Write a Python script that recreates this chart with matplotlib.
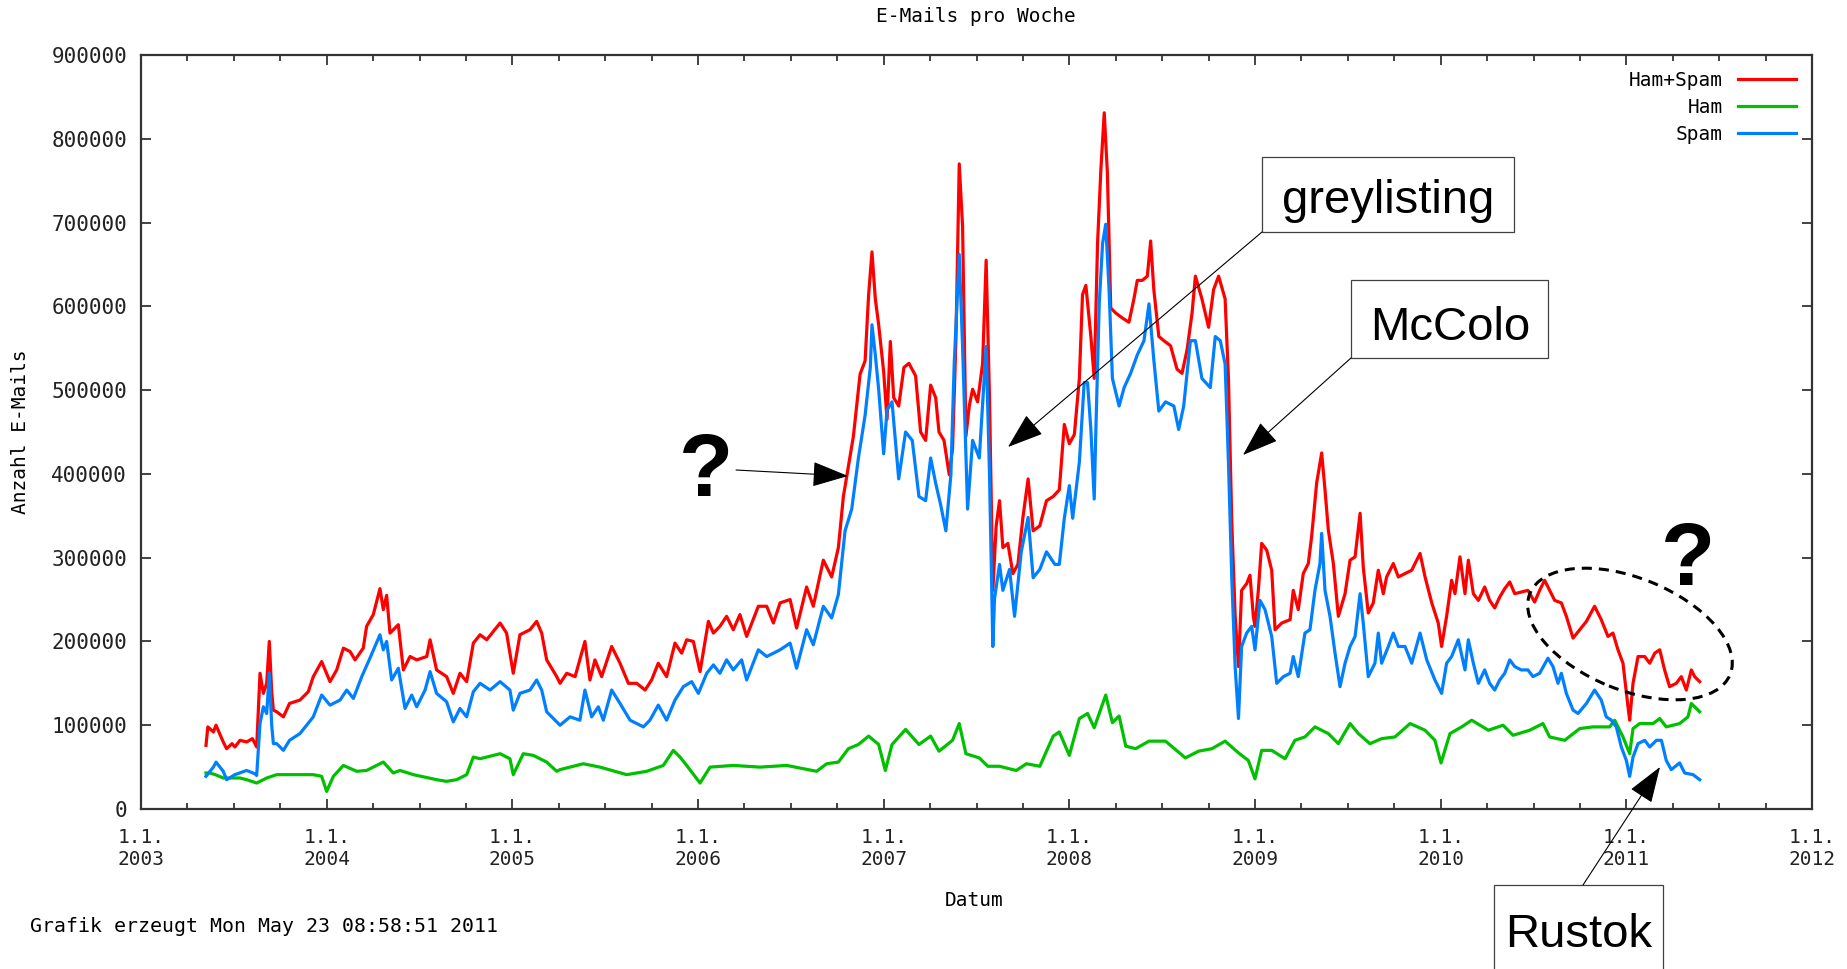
import matplotlib
matplotlib.use('Agg')
import matplotlib.pyplot as plt
from matplotlib.patches import Rectangle, Ellipse, FancyArrowPatch, ArrowStyle
from matplotlib.transforms import IdentityTransform

W, H = 1847, 969
MONO = 'DejaVu Sans Mono'
SANS = 'Liberation Sans'

# weekly mail counts in thousands (decimal year, value)
t_total = [2003.350, 2003.360, 2003.390, 2003.404, 2003.443, 2003.461, 2003.490, 2003.506, 2003.533, 2003.569,
           2003.600, 2003.614, 2003.623, 2003.641, 2003.650, 2003.659, 2003.677, 2003.691, 2003.704, 2003.713,
           2003.731, 2003.767, 2003.800, 2003.856, 2003.901, 2003.928, 2003.973, 2004.018, 2004.054, 2004.090,
           2004.126, 2004.153, 2004.197, 2004.215, 2004.251, 2004.287, 2004.305, 2004.323, 2004.341, 2004.386,
           2004.413, 2004.449, 2004.485, 2004.539, 2004.557, 2004.592, 2004.646, 2004.682, 2004.718, 2004.754,
           2004.790, 2004.826, 2004.862, 2004.934, 2004.969, 2005.005, 2005.041, 2005.095, 2005.131, 2005.158,
           2005.185, 2005.239, 2005.257, 2005.293, 2005.338, 2005.391, 2005.418, 2005.445, 2005.481, 2005.535,
           2005.580, 2005.625, 2005.670, 2005.715, 2005.750, 2005.786, 2005.831, 2005.876, 2005.912, 2005.939,
           2005.975, 2006.011, 2006.056, 2006.083, 2006.118, 2006.154, 2006.190, 2006.226, 2006.262, 2006.325,
           2006.370, 2006.406, 2006.442, 2006.496, 2006.531, 2006.585, 2006.621, 2006.675, 2006.720, 2006.756,
           2006.783, 2006.810, 2006.837, 2006.873, 2006.900, 2006.919, 2006.937, 2006.955, 2006.973, 2007.000,
           2007.018, 2007.036, 2007.054, 2007.081, 2007.109, 2007.136, 2007.172, 2007.199, 2007.226, 2007.253,
           2007.280, 2007.298, 2007.325, 2007.353, 2007.371, 2007.389, 2007.407, 2007.425, 2007.443, 2007.461,
           2007.479, 2007.506, 2007.533, 2007.552, 2007.570, 2007.588, 2007.606, 2007.624, 2007.642, 2007.669,
           2007.696, 2007.723, 2007.750, 2007.778, 2007.805, 2007.841, 2007.877, 2007.913, 2007.946, 2007.973,
           2008.000, 2008.027, 2008.054, 2008.071, 2008.089, 2008.116, 2008.134, 2008.152, 2008.170, 2008.188,
           2008.205, 2008.223, 2008.250, 2008.286, 2008.321, 2008.348, 2008.366, 2008.393, 2008.420, 2008.438,
           2008.455, 2008.482, 2008.509, 2008.545, 2008.580, 2008.607, 2008.634, 2008.661, 2008.679, 2008.714,
           2008.750, 2008.777, 2008.804, 2008.839, 2008.857, 2008.875, 2008.893, 2008.911, 2008.928, 2008.955,
           2008.973, 2008.991, 2009.000, 2009.018, 2009.036, 2009.063, 2009.090, 2009.108, 2009.144, 2009.189,
           2009.206, 2009.233, 2009.260, 2009.287, 2009.305, 2009.332, 2009.359, 2009.377, 2009.395, 2009.422,
           2009.449, 2009.485, 2009.512, 2009.539, 2009.566, 2009.583, 2009.610, 2009.637, 2009.664, 2009.691,
           2009.709, 2009.745, 2009.772, 2009.808, 2009.844, 2009.889, 2009.916, 2009.952, 2009.987, 2010.005,
           2010.032, 2010.059, 2010.077, 2010.104, 2010.131, 2010.149, 2010.176, 2010.203, 2010.237, 2010.264,
           2010.291, 2010.318, 2010.345, 2010.372, 2010.399, 2010.434, 2010.470, 2010.506, 2010.533, 2010.560,
           2010.587, 2010.614, 2010.650, 2010.677, 2010.713, 2010.749, 2010.785, 2010.829, 2010.865, 2010.901,
           2010.928, 2010.955, 2010.982, 2011.009, 2011.018, 2011.036, 2011.063, 2011.099, 2011.126, 2011.153,
           2011.180, 2011.206, 2011.233, 2011.269, 2011.296, 2011.323, 2011.350, 2011.368, 2011.395]
total = [76, 98, 92, 100, 80, 72, 78, 74, 82, 80,
         84, 78, 74, 162, 150, 138, 150, 200, 140, 118,
         116, 110, 126, 130, 140, 158, 176, 152, 166, 192,
         188, 178, 192, 218, 232, 263, 238, 255, 210, 220,
         166, 182, 178, 182, 202, 166, 158, 138, 162, 152,
         198, 208, 202, 222, 210, 162, 208, 214, 224, 210,
         178, 158, 150, 162, 158, 200, 154, 178, 158, 194,
         174, 150, 150, 142, 154, 174, 158, 198, 186, 202,
         200, 164, 224, 210, 218, 230, 214, 232, 206, 242,
         242, 222, 246, 250, 216, 265, 242, 297, 277, 312,
         373, 409, 445, 519, 535, 614, 665, 609, 578, 522,
         465, 558, 491, 481, 527, 532, 517, 450, 440, 506,
         491, 450, 440, 399, 430, 558, 770, 696, 445, 481,
         501, 486, 532, 655, 491, 261, 338, 368, 312, 317,
         281, 292, 348, 394, 332, 338, 368, 373, 381, 459,
         436, 447, 514, 614, 625, 564, 514, 675, 764, 831,
         759, 598, 592, 586, 581, 609, 631, 631, 636, 678,
         620, 564, 559, 553, 525, 520, 548, 592, 636, 609,
         575, 620, 636, 609, 514, 342, 231, 170, 261, 269,
         279, 230, 218, 261, 317, 309, 285, 214, 222, 226,
         261, 238, 281, 293, 325, 389, 425, 381, 333, 293,
         230, 257, 297, 301, 353, 289, 234, 246, 285, 257,
         277, 293, 277, 281, 285, 305, 277, 246, 222, 194,
         230, 273, 257, 301, 257, 297, 257, 249, 265, 249,
         240, 253, 263, 271, 257, 259, 261, 247, 261, 273,
         261, 249, 246, 230, 204, 214, 224, 242, 226, 206,
         210, 190, 174, 122, 106, 150, 182, 182, 174, 186,
         190, 166, 146, 150, 158, 142, 166, 158, 152]

t_ham = [2003.350, 2003.370, 2003.400, 2003.443, 2003.533, 2003.569, 2003.623, 2003.677, 2003.731, 2003.800,
         2003.928, 2003.973, 2004.000, 2004.036, 2004.090, 2004.162, 2004.215, 2004.305, 2004.359, 2004.395,
         2004.467, 2004.592, 2004.646, 2004.700, 2004.754, 2004.790, 2004.826, 2004.934, 2004.987, 2005.005,
         2005.059, 2005.113, 2005.185, 2005.239, 2005.257, 2005.382, 2005.472, 2005.616, 2005.724, 2005.813,
         2005.867, 2005.903, 2005.939, 2006.011, 2006.065, 2006.190, 2006.334, 2006.478, 2006.639, 2006.693,
         2006.756, 2006.810, 2006.864, 2006.919, 2006.973, 2007.009, 2007.045, 2007.118, 2007.190, 2007.253,
         2007.298, 2007.371, 2007.407, 2007.443, 2007.515, 2007.561, 2007.624, 2007.714, 2007.769, 2007.841,
         2007.913, 2007.946, 2008.000, 2008.054, 2008.098, 2008.134, 2008.196, 2008.232, 2008.268, 2008.304,
         2008.357, 2008.429, 2008.518, 2008.625, 2008.696, 2008.768, 2008.839, 2008.911, 2008.964, 2009.000,
         2009.036, 2009.090, 2009.162, 2009.215, 2009.269, 2009.323, 2009.395, 2009.449, 2009.512, 2009.557,
         2009.619, 2009.682, 2009.754, 2009.835, 2009.916, 2009.969, 2010.002, 2010.050, 2010.113, 2010.167,
         2010.257, 2010.336, 2010.390, 2010.479, 2010.551, 2010.587, 2010.668, 2010.749, 2010.820, 2010.910,
         2010.937, 2010.982, 2011.018, 2011.036, 2011.072, 2011.144, 2011.180, 2011.215, 2011.287, 2011.332,
         2011.350, 2011.395]
ham = [43, 43, 41, 37, 37, 35, 31, 37, 41, 41,
       41, 39, 21, 39, 52, 45, 46, 56, 43, 46,
       41, 35, 33, 35, 41, 62, 60, 66, 60, 41,
       66, 64, 56, 45, 47, 54, 50, 41, 45, 52,
       70, 62, 52, 31, 50, 52, 50, 52, 45, 54,
       56, 72, 77, 87, 77, 46, 77, 95, 77, 87,
       69, 82, 102, 66, 61, 51, 51, 46, 54, 51,
       87, 92, 64, 108, 114, 97, 136, 103, 111, 75,
       72, 81, 81, 61, 69, 72, 81, 67, 58, 36,
       70, 70, 60, 82, 86, 98, 90, 78, 102, 90,
       78, 84, 86, 102, 94, 82, 55, 90, 98, 106,
       94, 100, 88, 94, 102, 86, 82, 96, 98, 98,
       106, 86, 66, 96, 102, 102, 108, 98, 102, 110,
       126, 116]

t_spam = [2003.350, 2003.390, 2003.404, 2003.443, 2003.461, 2003.506, 2003.569, 2003.614, 2003.623, 2003.641,
          2003.659, 2003.677, 2003.691, 2003.704, 2003.713, 2003.731, 2003.767, 2003.800, 2003.856, 2003.928,
          2003.973, 2004.018, 2004.072, 2004.108, 2004.144, 2004.189, 2004.233, 2004.287, 2004.305, 2004.323,
          2004.350, 2004.386, 2004.422, 2004.458, 2004.485, 2004.530, 2004.557, 2004.592, 2004.646, 2004.682,
          2004.718, 2004.754, 2004.790, 2004.826, 2004.880, 2004.934, 2004.987, 2005.005, 2005.041, 2005.095,
          2005.131, 2005.158, 2005.185, 2005.257, 2005.311, 2005.364, 2005.391, 2005.427, 2005.463, 2005.490,
          2005.535, 2005.580, 2005.634, 2005.706, 2005.741, 2005.786, 2005.831, 2005.876, 2005.921, 2005.966,
          2006.002, 2006.047, 2006.083, 2006.118, 2006.154, 2006.190, 2006.235, 2006.262, 2006.325, 2006.370,
          2006.406, 2006.442, 2006.496, 2006.531, 2006.585, 2006.621, 2006.675, 2006.720, 2006.756, 2006.792,
          2006.828, 2006.864, 2006.900, 2006.928, 2006.937, 2006.955, 2006.973, 2007.000, 2007.018, 2007.045,
          2007.081, 2007.118, 2007.154, 2007.190, 2007.226, 2007.253, 2007.280, 2007.307, 2007.335, 2007.362,
          2007.380, 2007.407, 2007.425, 2007.452, 2007.479, 2007.515, 2007.552, 2007.570, 2007.588, 2007.597,
          2007.624, 2007.642, 2007.678, 2007.705, 2007.741, 2007.778, 2007.805, 2007.841, 2007.877, 2007.922,
          2007.946, 2007.973, 2008.000, 2008.018, 2008.036, 2008.054, 2008.080, 2008.098, 2008.116, 2008.134,
          2008.143, 2008.161, 2008.179, 2008.196, 2008.214, 2008.232, 2008.268, 2008.295, 2008.330, 2008.366,
          2008.402, 2008.429, 2008.455, 2008.482, 2008.518, 2008.563, 2008.589, 2008.616, 2008.652, 2008.679,
          2008.714, 2008.759, 2008.786, 2008.813, 2008.839, 2008.857, 2008.875, 2008.893, 2008.911, 2008.928,
          2008.955, 2008.982, 2009.000, 2009.027, 2009.054, 2009.090, 2009.117, 2009.153, 2009.189, 2009.206,
          2009.233, 2009.269, 2009.296, 2009.323, 2009.350, 2009.359, 2009.377, 2009.404, 2009.431, 2009.458,
          2009.485, 2009.512, 2009.539, 2009.566, 2009.583, 2009.610, 2009.646, 2009.664, 2009.682, 2009.718,
          2009.745, 2009.772, 2009.808, 2009.844, 2009.889, 2009.925, 2009.969, 2010.005, 2010.032, 2010.059,
          2010.095, 2010.131, 2010.149, 2010.176, 2010.203, 2010.237, 2010.264, 2010.291, 2010.318, 2010.345,
          2010.372, 2010.399, 2010.434, 2010.470, 2010.497, 2010.533, 2010.578, 2010.605, 2010.632, 2010.650,
          2010.677, 2010.713, 2010.740, 2010.785, 2010.829, 2010.865, 2010.892, 2010.919, 2010.946, 2010.973,
          2011.000, 2011.018, 2011.036, 2011.063, 2011.099, 2011.126, 2011.162, 2011.189, 2011.215, 2011.242,
          2011.287, 2011.314, 2011.359, 2011.395]
spam = [39, 50, 56, 45, 35, 41, 46, 42, 40, 102,
        122, 114, 162, 100, 78, 78, 70, 82, 90, 110,
        136, 124, 130, 142, 132, 158, 180, 208, 190, 200,
        154, 168, 120, 136, 122, 142, 164, 138, 128, 104,
        120, 110, 140, 150, 142, 152, 142, 118, 138, 142,
        154, 142, 116, 100, 110, 106, 142, 110, 122, 106,
        142, 126, 106, 98, 106, 124, 106, 130, 146, 152,
        138, 162, 172, 162, 178, 166, 178, 154, 190, 182,
        186, 190, 198, 168, 214, 196, 242, 228, 256, 332,
        358, 419, 470, 527, 578, 542, 501, 424, 476, 486,
        394, 450, 440, 373, 368, 419, 389, 363, 332, 399,
        532, 662, 552, 358, 440, 419, 552, 400, 194, 251,
        292, 261, 286, 230, 307, 348, 276, 286, 307, 292,
        292, 347, 386, 347, 381, 414, 509, 509, 453, 370,
        453, 603, 675, 698, 620, 514, 481, 503, 520, 542,
        559, 603, 536, 475, 486, 481, 453, 481, 559, 559,
        514, 503, 564, 559, 531, 414, 275, 170, 108, 194,
        210, 218, 190, 249, 238, 206, 150, 158, 162, 182,
        158, 210, 214, 261, 293, 329, 261, 230, 186, 146,
        174, 194, 206, 257, 222, 158, 174, 210, 174, 194,
        210, 194, 194, 174, 210, 178, 154, 138, 174, 182,
        202, 166, 202, 174, 150, 166, 150, 142, 154, 162,
        178, 170, 166, 166, 158, 162, 180, 170, 150, 162,
        138, 118, 114, 126, 142, 130, 110, 106, 98, 74,
        58, 39, 62, 78, 82, 74, 82, 82, 58, 47,
        55, 43, 41, 35]

years = list(range(2003, 2013))
year_labels = ['1.1.\n%d' % y for y in years]
y_ticks = list(range(0, 900001, 100000))

RED, GREEN, BLUE = '#ff0000', '#00c000', '#0080ff'

fig = plt.figure(figsize=(W / 100, H / 100), dpi=100)
ax = fig.add_axes([141 / W, 1 - 809 / H, (1812 - 141) / W, (809 - 55) / H])

ax.plot(t_total, [v * 1000 for v in total], color=RED, lw=2.3, label='Ham+Spam')
ax.plot(t_ham, [v * 1000 for v in ham], color=GREEN, lw=2.3, label='Ham')
ax.plot(t_spam, [v * 1000 for v in spam], color=BLUE, lw=2.3, label='Spam')

ax.set_xlim(2003, 2012)
ax.set_ylim(0, 900000)
ax.set_xticks(years)
ax.set_xticklabels(year_labels, fontfamily=MONO, fontsize=14, linespacing=1.15)
ax.set_xticks([y + q / 4 for y in years[:-1] for q in (1, 2, 3)], minor=True)
ax.set_yticks(y_ticks)
ax.set_yticklabels([str(v) for v in y_ticks], fontfamily=MONO, fontsize=15)
ax.tick_params(which='both', direction='in', top=True, right=True, colors='#222222', width=1.2)
ax.tick_params(which='major', length=7)
ax.tick_params(which='minor', length=4)
ax.tick_params(axis='y', pad=10)
ax.tick_params(axis='x', pad=14)
for s in ax.spines.values():
    s.set_linewidth(1.6)
    s.set_color('#333333')

leg = ax.legend(loc='upper right', frameon=False, markerfirst=False,
                prop={'family': MONO, 'size': 14}, handlelength=3.0,
                handletextpad=0.8, labelspacing=0.42, borderaxespad=0.5, borderpad=0.3)
for t in leg.get_texts():
    t.set_ha('right')

def fx(x):
    return x / W

def fy(y):
    return 1 - y / H

fig.text(fx(976), fy(16), 'E-Mails pro Woche', family=MONO, fontsize=14, ha='center', va='center')
fig.text(fx(974), fy(901), 'Datum', family=MONO, fontsize=14, ha='center', va='center')
fig.text(fx(21), fy(432), 'Anzahl E-Mails', family=MONO, fontsize=14, ha='center', va='center', rotation=90)
fig.text(fx(30), fy(927), 'Grafik erzeugt Mon May 23 08:58:51 2011', family=MONO, fontsize=14.3,
         ha='left', va='center')

# annotation boxes (left, top, right, bottom, text x, baseline)
boxes = [('greylisting', 1262, 157, 1514, 232, 1388, 213),
         ('McColo', 1351, 280, 1548, 358, 1450, 340),
         ('Rustok', 1494, 885, 1663, 990, 1579, 947)]
for txt, x0, y0, x1, y1, tx, ty in boxes:
    fig.add_artist(Rectangle((fx(x0), fy(y1)), fx(x1) - fx(x0), fy(y0) - fy(y1),
                             transform=fig.transFigure, facecolor='white',
                             edgecolor='#404040', lw=0.9, zorder=5))
    fig.text(fx(tx), fy(ty), txt, family=SANS, fontsize=34, ha='center', va='baseline', zorder=6)

for qx, qy in [(706, 496), (1688, 585)]:
    fig.text(fx(qx), fy(qy), '?', family=SANS, fontsize=64, fontweight='bold',
             ha='center', va='baseline', zorder=6)

head = ArrowStyle('-|>', head_length=1.0, head_width=0.35)
arrows = [((736, 470), (848, 476)),
          ((1262, 232), (1008, 447)),
          ((1351, 358), (1243, 455)),
          ((1583, 885), (1660, 767))]
for (ax0, ay0), (ax1, ay1) in arrows:
    fig.add_artist(FancyArrowPatch((fx(ax0), fy(ay0)), (fx(ax1), fy(ay1)),
                                   transform=fig.transFigure, arrowstyle=head,
                                   mutation_scale=23, lw=0.8, color='black',
                                   shrinkA=0, shrinkB=0, zorder=7))

fig.add_artist(Ellipse((1630, H - 634), 216, 112, angle=-22, transform=IdentityTransform(),
                       fill=False, edgecolor='black', lw=2.2, ls=(0, (3.3, 2.3)), zorder=7))

fig.savefig('out.png', dpi=100)
